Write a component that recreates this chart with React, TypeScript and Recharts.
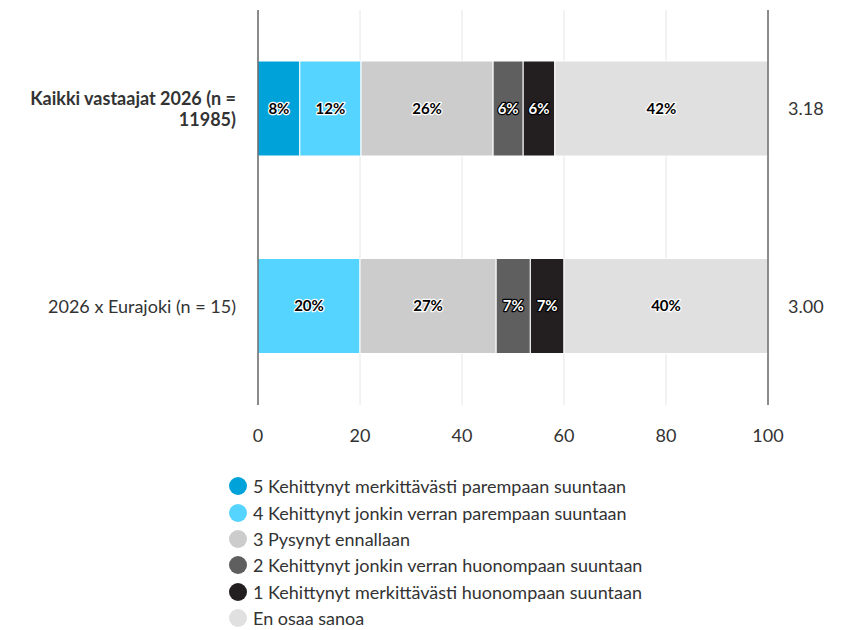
import { BarChart, Bar, XAxis, YAxis, CartesianGrid, LabelList } from 'recharts'

const categories = ['Kaikki vastaajat 2026 (n = 11985)', '2026 x Eurajoki (n = 15)']
const means = ['3.18', '3.00']
const seriesNames = [
  '5 Kehittynyt merkittävästi parempaan suuntaan',
  '4 Kehittynyt jonkin verran parempaan suuntaan',
  '3 Pysynyt ennallaan',
  '2 Kehittynyt jonkin verran huonompaan suuntaan',
  '1 Kehittynyt merkittävästi huonompaan suuntaan',
  'En osaa sanoa',
]
const colors = ['#00a3d9', '#55d4ff', '#cccccc', '#5f5f5f', '#231f20', '#e0e0e0']
const darkSeries = [false, false, false, true, true, false]

const s5 = [8.2, 0]
const s4 = [12.0, 20.0]
const s3 = [25.9, 26.7]
const s2 = [5.9, 6.7]
const s1 = [6.2, 6.6]
const eos = [41.8, 40.0]
const seriesValues = [s5, s4, s3, s2, s1, eos]
const xTicks = [0, 20, 40, 60, 80, 100]

const data = categories.map((name, i) => {
  const row: Record<string, number | string> = { name, mean: means[i] }
  seriesValues.forEach((vals, k) => {
    row['s' + k] = vals[i]
  })
  return row
})

const FONT = 'Lato, "Open Sans", sans-serif'

function wrap(text: string, maxWidth: number, charW: number) {
  const words = text.split(' ')
  const lines: string[] = []
  let cur = ''
  for (const w of words) {
    const next = cur ? cur + ' ' + w : w
    if (next.length * charW > maxWidth && cur) {
      lines.push(cur)
      cur = w
    } else {
      cur = next
    }
  }
  if (cur) lines.push(cur)
  return lines
}

function LeftTick(props: any) {
  const { x, y, payload, index } = props
  const bold = index === 0
  const lines = wrap(String(payload.value), 215, 8.1)
  const lh = 21
  const start = -((lines.length - 1) * lh) / 2
  return (
    <text
      x={x}
      y={y}
      textAnchor="end"
      fill="#333"
      fontSize={18}
      fontWeight={bold ? 700 : 400}
      fontFamily={FONT}
    >
      {lines.map((l, i) => (
        <tspan key={i} x={x} y={y + start + i * lh} dy="0.35em">
          {l}
        </tspan>
      ))}
    </text>
  )
}

function RightTick(props: any) {
  const { x, y, index } = props
  return (
    <text x={x} y={y} dy="0.35em" textAnchor="start" fill="#333" fontSize={18} fontFamily={FONT}>
      {means[index]}
    </text>
  )
}

function makeLabel(dark: boolean) {
  return (props: any) => {
    const { x, y, width, height, value } = props
    if (!value || value <= 0) return null
    return (
      <text
        x={x + width / 2}
        y={y + height / 2}
        dy="0.35em"
        textAnchor="middle"
        fontSize={15}
        fontWeight={700}
        fontFamily={FONT}
        fill={dark ? '#fff' : '#000'}
        stroke={dark ? '#000' : '#fff'}
        strokeWidth={2.5}
        paintOrder="stroke"
        strokeLinejoin="round"
      >
        {Math.round(value) + '%'}
      </text>
    )
  }
}

export default function App() {
  return (
    <div style={{ position: 'absolute', left: 0, top: 0, width: 841, height: 630, fontFamily: FONT, background: '#fff' }}>
      <BarChart
        width={841}
        height={470}
        data={data}
        layout="vertical"
        margin={{ top: 10, right: 0, bottom: 0, left: 0 }}
        barCategoryGap={0}
      >
        <CartesianGrid yAxisId="left" horizontal={false} vertical stroke="#e6e6e6" />
        <XAxis
          type="number"
          domain={[0, 100]}
          ticks={xTicks}
          axisLine={false}
          tickLine={false}
          tickMargin={18}
          height={65}
          tick={{ fill: '#333', fontSize: 18, fontFamily: FONT }}
        />
        <YAxis
          yAxisId="left"
          type="category"
          dataKey="name"
          width={258}
          axisLine={{ stroke: '#222' }}
          tickLine={false}
          tickMargin={16}
          tick={<LeftTick />}
        />
        <YAxis
          yAxisId="right"
          orientation="right"
          type="category"
          dataKey="name"
          width={73}
          axisLine={{ stroke: '#222' }}
          tickLine={false}
          tickMargin={14}
          tick={<RightTick />}
        />
        {seriesNames.map((n, k) => (
          <Bar
            key={n}
            yAxisId="left"
            dataKey={'s' + k}
            name={n}
            stackId="a"
            fill={colors[k]}
            stroke="#fff"
            strokeWidth={1}
            barSize={95}
            isAnimationActive={false}
          >
            <LabelList dataKey={'s' + k} content={makeLabel(darkSeries[k])} />
          </Bar>
        ))}
      </BarChart>
      <div style={{ position: 'absolute', left: 229, top: 473 }}>
        {seriesNames.map((n, k) => (
          <div key={n} style={{ display: 'flex', alignItems: 'center', height: 26.4 }}>
            <span
              style={{
                width: 18,
                height: 18,
                borderRadius: '50%',
                background: colors[k],
                display: 'inline-block',
                marginRight: 6,
              }}
            />
            <span style={{ fontSize: 18, color: '#333', whiteSpace: 'nowrap' }}>{n}</span>
          </div>
        ))}
      </div>
    </div>
  )
}
